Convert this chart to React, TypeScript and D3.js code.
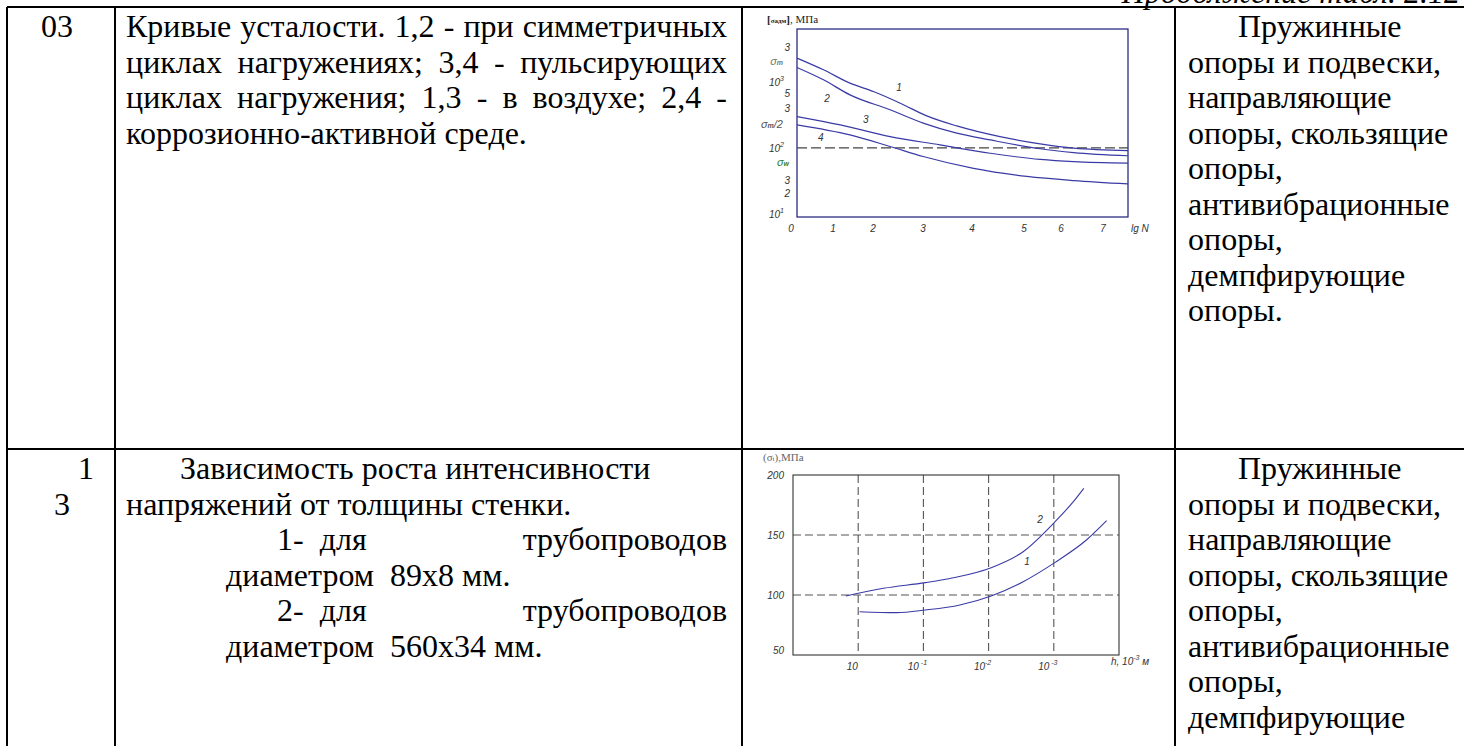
import React from "react";
import * as d3 from "d3";

const W = 1464;
const H = 746;

// ---------- table text ----------
const headerText = "Продолжение табл. 2.12";
const row1Number = ["03"];
const row1Desc = [
  "Кривые усталости. 1,2 - при симметричных",
  "циклах нагружениях; 3,4 - пульсирующих",
  "циклах нагружения; 1,3 - в воздухе; 2,4 -",
  "коррозионно-активной среде.",
];
const row1Justify = [true, true, true, false];
const row2Number = ["1", "3"];
const row2Desc = [
  "Зависимость роста интенсивности",
  "напряжений от толщины стенки.",
  "1-  для|трубопроводов",
  "диаметром  89x8 мм.",
  "2-  для|трубопроводов",
  "диаметром  560x34 мм.",
];
const supportsText = [
  "Пружинные",
  "опоры и подвески,",
  "направляющие",
  "опоры, скользящие",
  "опоры,",
  "антивибрационные",
  "опоры,",
  "демпфирующие",
  "опоры.",
];

// ---------- chart 1: fatigue curves ----------
const c1XLabels = ["0", "1", "2", "3", "4", "5", "6", "7"];
const c1XLabelPos = [0, 0.95, 1.86, 2.99, 4.1, 5.28, 6.12, 7.07];
const c1YLabels = [
  { t: "3", v: 3400 },
  { t: "σ", sub: "m", v: 2080 },
  { t: "10", sup: "3", v: 1000 },
  { t: "5", v: 680 },
  { t: "3", v: 404 },
  { t: "σ", sub: "m", tail: "/2", v: 231 },
  { t: "10", sup: "2", v: 100 },
  { t: "σ", sub: "w", v: 61 },
  { t: "3", v: 33 },
  { t: "2", v: 21 },
  { t: "10", sup: "1", v: 10 },
];
const c1Curve1: [number, number][] = [
  [0, 2286], [0.6, 1520], [1.2, 955], [1.73, 713], [2.34, 475], [2.94, 305],
  [3.62, 215], [4.6, 148], [5.51, 115], [6.27, 99], [7.5, 91],
];
const c1Curve2: [number, number][] = [
  [0, 1648], [0.6, 1072], [1.2, 635], [2.11, 377], [2.86, 237], [3.62, 167],
  [4.38, 132], [5.51, 97], [6.27, 85], [7.5, 76],
];
const c1Curve3: [number, number][] = [
  [0, 298], [0.98, 223], [2.11, 148], [3.24, 111], [4.38, 83], [5.51, 67],
  [6.27, 62], [7.5, 59],
];
const c1Curve4: [number, number][] = [
  [0, 223], [1.2, 157], [2.11, 105], [2.86, 74], [4.0, 49], [5.21, 37],
  [6.27, 32], [7.5, 28.5],
];
const c1Curves = [c1Curve1, c1Curve2, c1Curve3, c1Curve4];
const c1CurveLabels = [
  { t: "1", x: 2.31, v: 840 },
  { t: "2", x: 0.68, v: 573 },
  { t: "3", x: 1.56, v: 275 },
  { t: "4", x: 0.54, v: 147 },
];
const c1Limit = 100;

// ---------- chart 2: stress vs wall thickness ----------
const c2XTicks = [1, 2, 3, 4];
const c2XLabels = [
  { b: "10", s: "" },
  { b: "10", s: " -1" },
  { b: "10", s: "-2" },
  { b: "10", s: " -3" },
];
const c2YTicks = [200, 150, 100, 50];
const c2GridY = [150, 100];
const c2Curve2: [number, number][] = [
  [0.81, 99.2], [1.39, 105.6], [2.03, 110.3], [2.46, 114.4], [3.04, 122.8],
  [3.53, 136.1], [4.02, 161.1], [4.3, 177.8], [4.46, 188.9],
];
const c2Curve1: [number, number][] = [
  [1.02, 86.1], [1.59, 85.3], [2.03, 87.5], [2.56, 91.7], [3.04, 99.2],
  [3.53, 111.1], [4.02, 127.2], [4.5, 145.8], [4.81, 161.9],
];
const c2Curves = [c2Curve1, c2Curve2];
const c2CurveLabels = [
  { t: "2", x: 3.79, v: 163 },
  { t: "1", x: 3.59, v: 128 },
];

// ---------- helpers ----------
const SERIF = '"Liberation Serif"';
const SANS = '"Liberation Sans"';
const FONT_SIZE = 32;
let ctx: CanvasRenderingContext2D | null = null;
function measure(text: string): number {
  if (!ctx) ctx = document.createElement("canvas").getContext("2d");
  if (!ctx) return text.length * 15;
  ctx.font = `${FONT_SIZE}px "Liberation Serif"`;
  return ctx.measureText(text).width;
}

function Justified({ text, x0, x1, y }: { text: string; x0: number; x1: number; y: number }) {
  const words = text.split(" ").filter((w) => w.length);
  const widths = words.map(measure);
  const total = widths.reduce((a, b) => a + b, 0);
  const gap = words.length > 1 ? (x1 - x0 - total) / (words.length - 1) : 0;
  let cx = x0;
  return (
    <g>
      {words.map((w, i) => {
        const el = (
          <text key={i} x={cx} y={y}>
            {w}
          </text>
        );
        cx += widths[i] + gap;
        return el;
      })}
    </g>
  );
}

const LINE_H = 35.5;
const COL = [7, 115, 742, 1175];
const ROW = [7, 449];

export default function App() {
  // chart 1 scales
  const x1 = d3.scaleLinear().domain([0, 7.5]).range([797, 1128]);
  const y1 = d3.scaleLog().domain([9, 6300]).range([217, 29]);
  const line1 = d3
    .line<[number, number]>()
    .x((d) => x1(d[0]))
    .y((d) => y1(d[1]))
    .curve(d3.curveMonotoneX);

  // chart 2 scales
  const x2 = d3.scaleLinear().domain([0, 5]).range([793, 1119]);
  const y2 = d3.scaleLinear().domain([50, 200]).range([655, 475]);
  const line2 = d3
    .line<[number, number]>()
    .x((d) => x2(d[0]))
    .y((d) => y2(d[1]))
    .curve(d3.curveMonotoneX);

  const b1 = ROW[0] + 30;
  const b2 = ROW[1] + 30;

  return (
    <svg
      width={W}
      height={H}
      style={{ position: "absolute", left: 0, top: 0, background: "#fff" }}
    >
      <rect x={0} y={0} width={W} height={H} fill="#fff" />
      {/* header */}
      <text x={1460} y={3} textAnchor="end" fontSize={FONT_SIZE} fontStyle="italic" fill="#000" style={{ fontFamily: SERIF }}>
        {headerText}
      </text>

      {/* table lines */}
      <g stroke="#000" strokeWidth={2}>
        {ROW.map((y, i) => (
          <line key={"r" + i} x1={COL[0]} x2={W} y1={y} y2={y} />
        ))}
        {COL.map((x, i) => (
          <line key={"c" + i} x1={x} x2={x} y1={ROW[0]} y2={H} />
        ))}
      </g>

      {/* table text */}
      <g fontSize={FONT_SIZE} fill="#000" style={{ fontFamily: SERIF }}>
        <text x={57} y={b1} textAnchor="middle">{row1Number[0]}</text>
        {row1Desc.map((t, i) =>
          row1Justify[i] ? (
            <Justified key={i} text={t} x0={126} x1={727} y={b1 + i * LINE_H} />
          ) : (
            <text key={i} x={126} y={b1 + i * LINE_H}>{t}</text>
          )
        )}
        {supportsText.map((t, i) => (
          <text key={"s1" + i} x={i === 0 ? 1238 : 1188} y={b1 + i * LINE_H}>{t}</text>
        ))}

        <text x={86} y={b2} textAnchor="middle">{row2Number[0]}</text>
        <text x={62} y={b2 + LINE_H} textAnchor="middle">{row2Number[1]}</text>
        {row2Desc.map((t, i) => {
          const y = b2 + i * LINE_H;
          if (t.includes("|")) {
            const [a, b] = t.split("|");
            return (
              <g key={i}>
                <text x={277} y={y} style={{ whiteSpace: "pre" }}>{a}</text>
                <text x={727} y={y} textAnchor="end">{b}</text>
              </g>
            );
          }
          const x = i === 0 ? 180 : i === 1 ? 126 : 226;
          return (
            <text key={i} x={x} y={y} style={{ whiteSpace: "pre" }}>{t}</text>
          );
        })}
        {supportsText.map((t, i) => (
          <text key={"s2" + i} x={i === 0 ? 1238 : 1188} y={b2 + i * LINE_H}>{t}</text>
        ))}
      </g>

      {/* ---------- chart 1 ---------- */}
      <g>
        <text x={767} y={23} fontSize={11} fill="#222" style={{ fontFamily: SERIF }}>
          <tspan fontWeight="bold">[</tspan>
          <tspan fontWeight="bold" fontSize={7}>σадм</tspan>
          <tspan fontWeight="bold">]</tspan>
          <tspan>, МПа</tspan>
        </text>
        <rect
          x={x1(0)}
          y={y1(6300)}
          width={x1(7.5) - x1(0)}
          height={y1(9) - y1(6300)}
          fill="none"
          stroke="#1c1c7a"
          strokeWidth={1.2}
        />
        <line
          x1={x1(0)}
          x2={x1(7.5)}
          y1={y1(c1Limit)}
          y2={y1(c1Limit)}
          stroke="#444"
          strokeWidth={1.1}
          strokeDasharray="10,4"
        />
        {c1Curves.map((c, i) => (
          <path key={i} d={line1(c) || ""} fill="none" stroke="#3a3aa6" strokeWidth={1.2} />
        ))}
        <g fontStyle="italic" fontSize={10} fill="#333" style={{ fontFamily: SANS }}>
          {c1CurveLabels.map((l, i) => (
            <text key={i} x={x1(l.x)} y={y1(l.v) + 4} textAnchor="middle">{l.t}</text>
          ))}
          {c1XLabels.map((l, i) => (
            <text key={i} x={x1(c1XLabelPos[i]) - 6} y={232} textAnchor="middle">{l}</text>
          ))}
          <text x={1131} y={232}>lg N</text>
          {c1YLabels.map((l, i) => {
            const y = y1(l.v) + 4;
            if (l.sup) {
              return (
                <text key={i} x={784} y={y} textAnchor="end">
                  {l.t}
                  <tspan fontSize={7} dy={-5}>{l.sup}</tspan>
                </text>
              );
            }
            if (l.sub) {
              const fill = l.sub === "w" ? "#2f7d32" : l.tail ? "#555" : "#6d7d6d";
              return (
                <text key={i} x={l.sub === "w" ? 789 : 783} y={y} textAnchor="end" fill={fill} fontSize={11}>
                  {l.t}
                  <tspan fontSize={7} fontWeight="bold">{l.sub}</tspan>
                  {l.tail ? <tspan>{l.tail}</tspan> : null}
                </text>
              );
            }
            return (
              <text key={i} x={790} y={y} textAnchor="end">{l.t}</text>
            );
          })}
        </g>
      </g>

      {/* ---------- chart 2 ---------- */}
      <g>
        <text x={763} y={461} fontSize={11} fill="#666" style={{ fontFamily: SERIF }}>
          (σ<tspan fontSize={7}>i</tspan>),МПа
        </text>
        <g stroke="#555" strokeWidth={1.1} strokeDasharray="8,4">
          {c2XTicks.map((t) => (
            <line key={"gx" + t} x1={x2(t)} x2={x2(t)} y1={y2(200)} y2={y2(50)} />
          ))}
          {c2GridY.map((t) => (
            <line key={"gy" + t} x1={x2(0)} x2={x2(5)} y1={y2(t)} y2={y2(t)} />
          ))}
        </g>
        <rect
          x={x2(0)}
          y={y2(200)}
          width={x2(5) - x2(0)}
          height={y2(50) - y2(200)}
          fill="none"
          stroke="#333"
          strokeWidth={1.1}
        />
        {c2Curves.map((c, i) => (
          <path key={i} d={line2(c) || ""} fill="none" stroke="#3a3aa6" strokeWidth={1.1} />
        ))}
        <g fontStyle="italic" fontSize={10} fill="#333" style={{ fontFamily: SANS }}>
          {c2CurveLabels.map((l, i) => (
            <text key={i} x={x2(l.x)} y={y2(l.v) + 4} textAnchor="middle">{l.t}</text>
          ))}
          {c2YTicks.map((t) => (
            <text key={t} x={784} y={Math.min(y2(t) + 4, 654)} textAnchor="end">{t}</text>
          ))}
          {c2XLabels.map((l, i) => (
            <text key={i} x={x2(c2XTicks[i]) - 6} y={670} textAnchor="middle" style={{ whiteSpace: "pre" }}>
              {l.b}
              {l.s ? <tspan fontSize={7} dy={-5}>{l.s}</tspan> : null}
            </text>
          ))}
          <text x={1111} y={665}>
            h, 10<tspan fontSize={7} dy={-5}>-3</tspan>
            <tspan dy={5}> м</tspan>
          </text>
        </g>
      </g>
    </svg>
  );
}
